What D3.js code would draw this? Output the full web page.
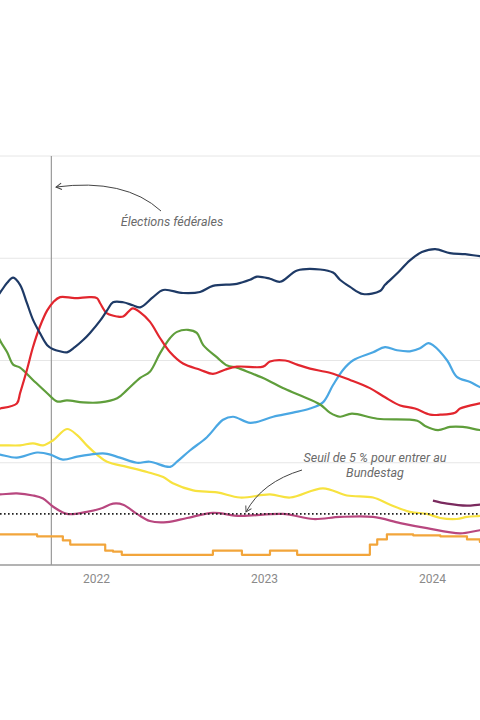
<!DOCTYPE html>
<html>
<head>
<meta charset="utf-8">
<script src="https://cdn.jsdelivr.net/npm/d3@7"></script>
<style>
  body { margin: 0; background: #fff; }
  svg { display: block; font-family: Roboto, "Noto Sans", sans-serif; }
</style>
</head>
<body>
<svg id="chart" width="480" height="720"></svg>
<script>
// sondages (moyenne glissante), en %
const cdu = [["2021-05-20",25.6],["2021-06-06",26.6],["2021-06-22",27.6],["2021-07-05",28.1],["2021-07-20",27.4],["2021-08-04",25.6],["2021-08-17",24.0],["2021-09-01",22.7],["2021-09-17",21.5],["2021-09-30",21.1],["2021-10-15",20.9],["2021-10-30",20.8],["2021-11-16",21.3],["2021-12-04",22.0],["2021-12-19",22.7],["2022-01-10",23.9],["2022-01-25",24.9],["2022-02-07",25.7],["2022-03-01",25.7],["2022-03-22",25.4],["2022-04-07",25.2],["2022-05-05",26.2],["2022-05-27",26.9],["2022-07-09",26.6],["2022-08-15",26.7],["2022-09-12",27.3],["2022-11-03",27.5],["2022-12-02",27.9],["2022-12-17",28.2],["2023-01-14",28.0],["2023-02-05",27.7],["2023-03-14",28.8],["2023-05-03",28.9],["2023-05-31",28.6],["2023-06-15",27.9],["2023-07-07",27.2],["2023-08-04",26.5],["2023-09-10",26.8],["2023-09-21",27.4],["2023-10-17",28.5],["2023-11-14",29.8],["2023-12-10",30.6],["2024-01-08",30.9],["2024-02-09",30.5],["2024-03-13",30.4],["2024-04-14",30.2],["2024-05-10",30.1]];
const spd = [["2021-05-20",15.2],["2021-06-06",15.3],["2021-07-13",15.8],["2021-07-20",16.8],["2021-08-04",19.1],["2021-08-17",21.3],["2021-09-01",23.3],["2021-09-17",24.9],["2021-09-30",25.7],["2021-10-15",26.2],["2021-11-16",26.1],["2021-12-19",26.2],["2022-01-03",26.1],["2022-01-10",25.6],["2022-01-25",24.6],["2022-02-16",24.3],["2022-03-01",24.3],["2022-03-22",25.1],["2022-04-07",24.7],["2022-04-28",23.8],["2022-05-20",22.2],["2022-06-11",20.8],["2022-07-09",19.7],["2022-08-15",19.1],["2022-09-12",18.7],["2022-10-08",19.1],["2022-11-03",19.4],["2022-12-30",19.4],["2023-01-14",19.9],["2023-02-16",20.0],["2023-03-14",19.6],["2023-04-11",19.2],["2023-05-24",18.8],["2023-07-07",18.1],["2023-08-19",17.3],["2023-09-21",16.4],["2023-10-24",15.6],["2023-11-25",15.3],["2023-12-28",14.7],["2024-01-19",14.7],["2024-02-20",14.9],["2024-03-02",15.3],["2024-04-14",15.8],["2024-05-10",16.0]];
const gruene = [["2021-05-20",24.0],["2021-06-06",22.0],["2021-06-22",20.8],["2021-07-05",19.6],["2021-07-20",19.3],["2021-08-17",18.1],["2021-09-17",16.8],["2021-10-08",16.0],["2021-10-30",16.1],["2021-12-04",15.9],["2022-01-10",15.9],["2022-02-16",16.3],["2022-03-09",17.1],["2022-04-07",18.3],["2022-04-28",18.9],["2022-05-20",20.7],["2022-06-11",22.2],["2022-06-26",22.8],["2022-07-20",23.0],["2022-08-08",22.7],["2022-08-22",21.5],["2022-09-21",20.3],["2022-10-13",19.5],["2022-11-03",19.3],["2022-12-02",18.8],["2023-01-08",18.1],["2023-02-11",17.3],["2023-03-20",16.6],["2023-05-03",15.7],["2023-05-24",14.9],["2023-06-15",14.5],["2023-07-11",14.8],["2023-09-04",14.3],["2023-11-30",14.1],["2023-12-17",13.6],["2024-01-14",13.2],["2024-02-09",13.5],["2024-03-08",13.5],["2024-04-14",13.2],["2024-05-10",13.1]];
const afd = [["2021-05-20",10.9],["2021-06-06",10.8],["2021-07-13",10.5],["2021-08-26",11.0],["2021-09-24",10.8],["2021-10-21",10.3],["2021-11-21",10.6],["2021-12-19",10.8],["2022-01-21",10.9],["2022-02-22",10.5],["2022-03-31",10.0],["2022-04-28",10.1],["2022-06-11",9.6],["2022-06-26",10.1],["2022-07-24",11.2],["2022-08-30",12.5],["2022-10-04",14.2],["2022-10-26",14.5],["2022-12-02",13.9],["2023-01-21",14.5],["2023-03-05",14.9],["2023-04-11",15.3],["2023-05-09",15.9],["2023-05-31",17.6],["2023-06-22",19.1],["2023-07-13",20.0],["2023-08-26",20.8],["2023-09-21",21.3],["2023-10-17",21.0],["2023-11-14",20.9],["2023-12-06",21.2],["2023-12-24",21.7],["2024-01-03",21.5],["2024-02-03",20.0],["2024-02-24",18.4],["2024-03-24",17.9],["2024-04-14",17.4],["2024-05-10",17.0]];
const fdp = [["2021-05-20",11.6],["2021-06-06",11.7],["2021-07-20",11.7],["2021-08-17",11.9],["2021-09-08",11.7],["2021-09-30",12.2],["2021-10-30",13.3],["2021-11-21",12.7],["2021-12-12",11.7],["2022-01-03",10.8],["2022-01-25",10.1],["2022-03-09",9.6],["2022-04-22",9.1],["2022-05-27",8.6],["2022-06-17",8.0],["2022-07-31",7.3],["2022-09-21",7.1],["2022-11-10",6.6],["2023-01-14",6.9],["2023-02-27",6.6],["2023-05-09",7.5],["2023-06-30",6.8],["2023-08-26",6.6],["2023-10-02",5.9],["2023-11-14",5.2],["2023-12-21",5.0],["2024-01-19",4.6],["2024-02-24",4.5],["2024-03-17",4.7],["2024-04-14",4.8],["2024-05-10",4.9]];
const linke = [["2021-05-20",6.9],["2021-06-06",6.9],["2021-07-13",7.0],["2021-08-17",6.8],["2021-09-08",6.5],["2021-09-30",5.7],["2021-10-30",5.0],["2021-12-12",5.2],["2022-01-10",5.5],["2022-02-07",6.0],["2022-03-01",5.9],["2022-03-31",5.0],["2022-04-28",4.3],["2022-06-04",4.2],["2022-07-18",4.6],["2022-09-12",5.1],["2022-11-10",4.8],["2023-02-11",5.0],["2023-04-18",4.5],["2023-06-15",4.7],["2023-08-26",4.7],["2023-10-24",4.1],["2023-12-21",3.6],["2024-03-02",3.1],["2024-04-14",3.4],["2024-05-10",3.5]];
const bsw = [["2024-01-03",6.3],["2024-02-03",6.0],["2024-03-17",5.8],["2024-04-14",5.9],["2024-05-10",5.9]];
const fw = [["2021-05-20",3.0],["2021-08-26",2.8],["2021-10-21",2.4],["2021-11-06",2.0],["2022-01-21",1.4],["2022-02-07",1.3],["2022-02-26",1.0],["2022-09-12",1.4],["2022-11-14",1.0],["2023-01-14",1.4],["2023-03-14",1.0],["2023-08-19",2.0],["2023-09-04",2.5],["2023-09-25",3.0],["2023-11-21",2.9],["2024-01-19",2.8],["2024-03-17",2.5],["2024-04-14",2.25],["2024-05-10",2.1]];

const series = [
  { data: fw, color: "#f2a53b", step: true },
  { data: linke, color: "#b8477f" },
  { data: bsw, color: "#7a2a5e" },
  { data: fdp, color: "#f7e23f" },
  { data: afd, color: "#4aa7e3" },
  { data: gruene, color: "#5f9e3b" },
  { data: spd, color: "#e2262e" },
  { data: cdu, color: "#1e3a66" }
];

const yearTicks = ["2022-01-01", "2023-01-01", "2024-01-01"];
const gridValues = [10, 20, 30, 40];
const electionDate = "2021-09-26";
const threshold = 5;

const parse = d3.timeParse("%Y-%m-%d");
const svg = d3.select("#chart");
const W = 480;

// la vue est un extrait d'un graphique plus large
const x = d3.scaleTime()
  .domain([parse("2022-01-01"), parse("2024-01-01")])
  .range([96, 432]);
const y = d3.scaleLinear().domain([0, 40]).range([565, 156]);

// grille
svg.append("g").selectAll("line").data(gridValues).enter().append("line")
  .attr("x1", 0).attr("x2", W)
  .attr("y1", d => y(d)).attr("y2", d => y(d))
  .attr("stroke", "#e6e6e6").attr("stroke-width", 1);

// axe des années
const xAxis = d3.axisBottom(x)
  .tickValues(yearTicks.map(parse))
  .tickFormat(d3.timeFormat("%Y"))
  .tickSize(0).tickPadding(9);
const gx = svg.append("g").attr("transform", "translate(0," + y(0) + ")").call(xAxis);
gx.select(".domain").remove();
gx.selectAll("text").attr("fill", "#8a8a8a").style("font-size", "12px").style("font-family", "Roboto, sans-serif");

// élection fédérale
svg.append("line")
  .attr("x1", x(parse(electionDate))).attr("x2", x(parse(electionDate)))
  .attr("y1", y(40)).attr("y2", y(0))
  .attr("stroke", "#9a9a9a").attr("stroke-width", 1.2);

// courbes
const line = d3.line()
  .x(d => x(parse(d[0])))
  .y(d => y(d[1]))
  .curve(d3.curveCatmullRom.alpha(0.5));
const stepLine = d3.line()
  .x(d => x(parse(d[0])))
  .y(d => y(d[1]))
  .curve(d3.curveStepAfter);

svg.append("g").selectAll("path").data(series).enter().append("path")
  .attr("d", s => (s.step ? stepLine : line)(s.data))
  .attr("fill", "none")
  .attr("stroke", s => s.color)
  .attr("stroke-width", 2.2)
  .attr("stroke-linejoin", "round");

// seuil des 5 %
svg.append("line")
  .attr("x1", 0).attr("x2", W)
  .attr("y1", y(threshold)).attr("y2", y(threshold))
  .attr("stroke", "#222").attr("stroke-width", 1.6)
  .attr("stroke-dasharray", "1.6,2.4");

// baseline
svg.append("line")
  .attr("x1", 0).attr("x2", W)
  .attr("y1", y(0)).attr("y2", y(0))
  .attr("stroke", "#9a9a9a").attr("stroke-width", 1.5);

// annotations
const defs = svg.append("defs");
defs.append("marker").attr("id", "arrow")
  .attr("viewBox", "0 0 10 10").attr("refX", 8).attr("refY", 5)
  .attr("markerWidth", 8).attr("markerHeight", 8)
  .attr("orient", "auto-start-reverse")
  .append("path").attr("d", "M1,1 L8,5 L1,9")
  .attr("fill", "none").attr("stroke", "#444").attr("stroke-width", 1.2);

svg.append("path")
  .attr("d", "M161,211 Q125,178 56,187")
  .attr("fill", "none").attr("stroke", "#444").attr("stroke-width", 1)
  .attr("marker-end", "url(#arrow)");

svg.append("text")
  .attr("x", 172).attr("y", 226)
  .attr("text-anchor", "middle")
  .attr("fill", "#6a6a6a").style("font-size", "12.5px").style("font-style", "italic")
  .text("Élections fédérales");

svg.append("path")
  .attr("d", "M302,470 Q262,482 246,512")
  .attr("fill", "none").attr("stroke", "#444").attr("stroke-width", 1)
  .attr("marker-end", "url(#arrow)");

const note = svg.append("text")
  .attr("text-anchor", "middle")
  .attr("fill", "#6a6a6a").style("font-size", "12.5px").style("font-style", "italic");
note.append("tspan").attr("x", 375).attr("y", 462).text("Seuil de 5 % pour entrer au");
note.append("tspan").attr("x", 375).attr("y", 477).text("Bundestag");
</script>
</body>
</html>
